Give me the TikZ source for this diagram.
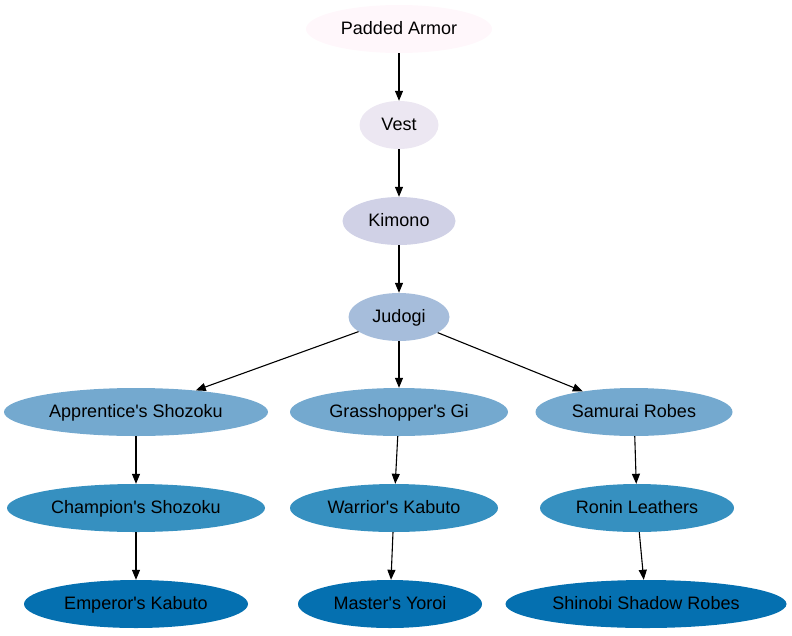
\documentclass[tikz,border=0pt]{standalone}
\usepackage{fontspec}
\setmainfont{Liberation Sans}
\usetikzlibrary{shapes.geometric,arrows.meta}

\definecolor{pubuA}{HTML}{FFF7FB}
\definecolor{pubuB}{HTML}{ECE7F2}
\definecolor{pubuC}{HTML}{D0D1E6}
\definecolor{pubuD}{HTML}{A6BDDB}
\definecolor{pubuE}{HTML}{74A9CF}
\definecolor{pubuF}{HTML}{3690C0}
\definecolor{pubuG}{HTML}{0570B0}
\newcommand{\apos}{\textquotesingle}

\begin{document}
\begin{tikzpicture}[
		x=1pt, y=-1pt,
		armor/.style={ellipse, draw=none, inner sep=0pt, minimum height=48pt, text height=14pt, text depth=3pt, font=\fontsize{18}{21}\selectfont, text=black},
		upgrade/.style={-{Triangle[length=10pt,width=8pt]}, line width=1.1pt, black}
		]
		
		\useasboundingbox (0,0) rectangle (792,635);
		
		\node[armor, fill=pubuA, minimum width=186pt] (padded) at (399,29) {Padded Armor};
		\node[armor, fill=pubuB, minimum width=79pt] (vest) at (399,125) {Vest};
		\node[armor, fill=pubuC, minimum width=113pt] (kimono) at (399,221) {Kimono};
		\node[armor, fill=pubuD, minimum width=101pt] (judogi) at (399,317) {Judogi};
		
		\node[armor, fill=pubuE, minimum width=264pt] (apprentice) at (136,412) {Apprentice\apos s Shozoku};
		\node[armor, fill=pubuE, minimum width=218pt] (grasshopper) at (399,412) {Grasshopper\apos s Gi};
		\node[armor, fill=pubuE, minimum width=197pt] (samurai) at (634,412) {Samurai Robes};
		
		\node[armor, fill=pubuF, minimum width=258pt] (champion) at (136,508) {Champion\apos s Shozoku};
		\node[armor, fill=pubuF, minimum width=208pt] (warrior) at (394,508) {Warrior\apos s Kabuto};
		\node[armor, fill=pubuF, minimum width=194pt] (ronin) at (637,508) {Ronin Leathers};
		
		\node[armor, fill=pubuG, minimum width=224pt] (emperor) at (136,604) {Emperor\apos s Kabuto};
		\node[armor, fill=pubuG, minimum width=184pt] (master) at (390,604) {Master\apos s Yoroi};
		\node[armor, fill=pubuG, minimum width=281pt] (shinobi) at (646,604) {Shinobi Shadow Robes};
		
		\draw[upgrade] (padded) -- (vest);
		\draw[upgrade] (vest) -- (kimono);
		\draw[upgrade] (kimono) -- (judogi);
		\draw[upgrade] (judogi) -- (apprentice);
		\draw[upgrade] (judogi) -- (grasshopper);
		\draw[upgrade] (judogi) -- (samurai);
		\draw[upgrade] (apprentice) -- (champion);
		\draw[upgrade] (champion) -- (emperor);
		\draw[upgrade] (grasshopper) -- (warrior);
		\draw[upgrade] (warrior) -- (master);
		\draw[upgrade] (samurai) -- (ronin);
		\draw[upgrade] (ronin) -- (shinobi);
		
	\end{tikzpicture}
\end{document}
